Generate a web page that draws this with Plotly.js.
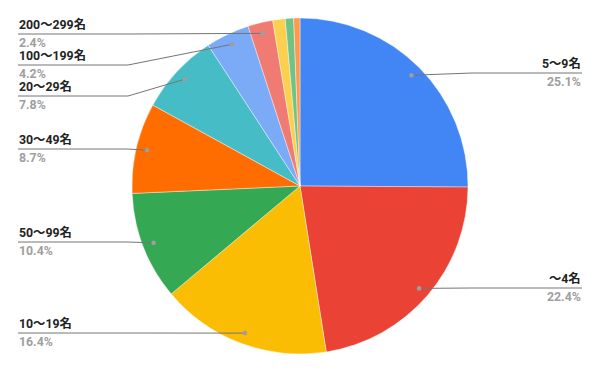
<!DOCTYPE html>
<html><head><meta charset="utf-8">
<script src="https://cdn.plot.ly/plotly-3.0.1.min.js"></script>
<style>html,body{margin:0;padding:0;background:#fff}#chart{width:600px;height:371px}</style>
</head><body><div id="chart"></div>
<script>
const categories = ['5～9名','～4名','10～19名','50～99名','30～49名','20～29名','100～199名','200～299名','300～499名','500～999名','1000名～'];
const shares = [25.1, 22.4, 16.4, 10.4, 8.7, 7.8, 4.2, 2.4, 1.2, 0.8, 0.6];
const colors = ['#4285F4','#EA4335','#FBBC04','#34A853','#FF6D01','#46BDC6','#7BAAF7','#F07B72','#FCD04F','#71C287','#FF994D'];
const showLabel = [true,true,true,true,true,true,true,true,false,false,false];
// label layout (pixel): side and leader-line y
const labelSide = ['right','right','left','left','left','left','left','left'];
const labelLineY = [73, 288, 333, 242, 149, 96, 65, 34];

const W = 600, H = 371;
const cx = 300, cy = 186, R = 168;
const px = x => x / W, py = y => 1 - y / H;

const total = shares.reduce((a,b)=>a+b,0);
const shapes = [], annotations = [];
let cum = 0;
shares.forEach((v,i)=>{
  const mid = (cum + v/2) / total;
  cum += v;
  if (!showLabel[i]) return;
  const ang = mid * 2 * Math.PI;
  const dx = cx + 0.935 * R * Math.sin(ang);
  const dy = cy - 0.935 * R * Math.cos(ang);
  const ly = labelLineY[i];
  const left = labelSide[i] === 'left';
  const x0 = left ? 18 : 582;
  const xe = left ? 128 : 472;
  let path;
  if (left && dx < xe + 5 || !left && dx > xe - 5) {
    path = `M ${px(x0)},${py(ly)} L ${px(dx)},${py(dy)}`;
  } else {
    path = `M ${px(x0)},${py(ly)} L ${px(xe)},${py(ly)} L ${px(dx)},${py(dy)}`;
  }
  shapes.push({type:'path', xref:'paper', yref:'paper', path, line:{color:'#757575', width:1}});
  const r = 2.3;
  shapes.push({type:'circle', xref:'paper', yref:'paper', x0:px(dx-r), x1:px(dx+r), y0:py(dy+r), y1:py(dy-r), fillcolor:'#9e9e9e', line:{width:0}});
  annotations.push({xref:'paper', yref:'paper', x:px(x0), y:py(ly-1), xanchor: left?'left':'right', yanchor:'bottom', showarrow:false,
    text:'<b>'+categories[i]+'</b>', font:{family:'Roboto, "Noto Sans CJK JP", sans-serif', size:12.3, color:'#222222'}, borderpad:0});
  annotations.push({xref:'paper', yref:'paper', x:px(x0), y:py(ly+1), xanchor: left?'left':'right', yanchor:'top', showarrow:false,
    text:'<b>'+v.toFixed(1)+'%</b>', font:{family:'Roboto, sans-serif', size:12.3, color:'#9e9e9e'}, borderpad:0});
});

const trace = {
  type:'pie', labels:categories, values:shares, sort:false, direction:'clockwise', rotation:0,
  marker:{colors:colors, line:{color:'#ffffff', width:0.4}}, textinfo:'none', hoverinfo:'label+percent',
  domain:{x:[px(cx-R), px(cx+R)], y:[py(cy+R), py(cy-R)]}
};
const layout = {width:W, height:H, margin:{l:0,r:0,t:0,b:0}, showlegend:false,
  paper_bgcolor:'#ffffff', shapes, annotations};
Plotly.newPlot('chart',[trace],layout,{displayModeBar:false, staticPlot:true});
</script></body></html>
